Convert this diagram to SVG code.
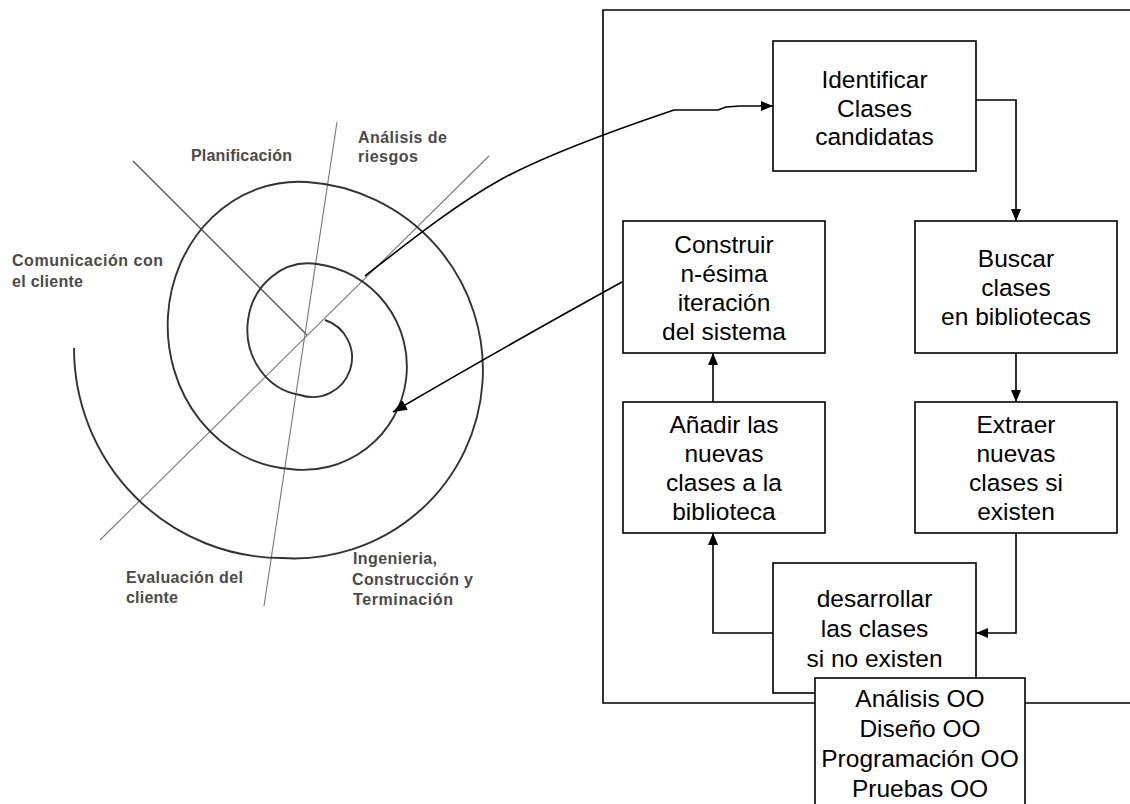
<svg xmlns="http://www.w3.org/2000/svg" width="1130" height="804" viewBox="0 0 1130 804">
<style>
  .lbl{font-family:"Liberation Sans",Arial,sans-serif;font-size:16px;font-weight:bold;fill:#4a4a4a}
  .box{fill:#fff;stroke:#000;stroke-width:1.6}
  .t{font-family:"Liberation Sans",Arial,sans-serif;font-size:24.5px;fill:#000;text-anchor:middle}
  .con{fill:none;stroke:#000;stroke-width:1.6}
  .spiral{fill:none;stroke:#333;stroke-width:1.9}
</style>
<defs>
  <marker id="ah" markerUnits="userSpaceOnUse" markerWidth="12" markerHeight="10" refX="12" refY="5" orient="auto">
    <path d="M0,0 L12,5 L0,10 z" fill="#000"/>
  </marker>
  <marker id="ah2" markerUnits="userSpaceOnUse" markerWidth="14" markerHeight="11" refX="14" refY="5.5" orient="auto">
    <path d="M0,0 L14,5.5 L0,11 z" fill="#000"/>
  </marker>
</defs>
<rect width="1130" height="804" fill="#fff"/>

<g id="spiral-model">
  <line x1="133" y1="161" x2="307" y2="335" stroke="#555" stroke-width="1.4"/>
  <line x1="489" y1="156" x2="100" y2="540" stroke="#777" stroke-width="1.1"/>
  <line x1="337" y1="122" x2="264" y2="606" stroke="#777" stroke-width="1.1"/>
  <path class="spiral" d="M325,320 A10,10 0 0 1 300,395 A30.5,33 0 0 1 317,264 A10,10 0 0 1 290,469 A65.5,72 0 0 1 307,182 A10,10 0 0 1 282,558 A208,210 0 0 1 74,348"/>
  <text class="lbl" x="191" y="161" textLength="101" lengthAdjust="spacing">Planificación</text>
  <text class="lbl" x="358" y="143" textLength="89" lengthAdjust="spacing">Análisis de</text>
  <text class="lbl" x="358" y="162" textLength="60" lengthAdjust="spacing">riesgos</text>
  <text class="lbl" x="12" y="266" textLength="151" lengthAdjust="spacing">Comunicación con</text>
  <text class="lbl" x="12" y="287" textLength="71" lengthAdjust="spacing">el cliente</text>
  <text class="lbl" x="126" y="583" textLength="117" lengthAdjust="spacing">Evaluación del</text>
  <text class="lbl" x="126" y="603" textLength="52" lengthAdjust="spacing">cliente</text>
  <text class="lbl" x="353" y="564" textLength="84" lengthAdjust="spacing">Ingenieria,</text>
  <text class="lbl" x="352" y="585" textLength="121" lengthAdjust="spacing">Construcción y</text>
  <text class="lbl" x="353" y="605" textLength="100" lengthAdjust="spacing">Terminación</text>
</g>

<g id="frame">
  <path d="M1130,10 H603 V703 H1130" fill="none" stroke="#000" stroke-width="1.6"/>
</g>

<g id="identificar">
  <rect class="box" x="773" y="41" width="203" height="130"/>
  <text class="t" x="874.5" y="88">Identificar</text>
  <text class="t" x="874.5" y="117">Clases</text>
  <text class="t" x="874.5" y="145">candidatas</text>
</g>
<g id="construir">
  <rect class="box" x="623" y="221" width="202" height="132"/>
  <text class="t" x="724" y="253">Construir</text>
  <text class="t" x="724" y="282">n-ésima</text>
  <text class="t" x="724" y="311">iteración</text>
  <text class="t" x="724" y="340">del sistema</text>
</g>
<g id="buscar">
  <rect class="box" x="915" y="221" width="202" height="132"/>
  <text class="t" x="1016" y="267">Buscar</text>
  <text class="t" x="1016" y="296">clases</text>
  <text class="t" x="1016" y="325">en bibliotecas</text>
</g>
<g id="anadir">
  <rect class="box" x="623" y="402" width="202" height="131"/>
  <text class="t" x="724" y="433">Añadir las</text>
  <text class="t" x="724" y="462">nuevas</text>
  <text class="t" x="724" y="491">clases a la</text>
  <text class="t" x="724" y="520">biblioteca</text>
</g>
<g id="extraer">
  <rect class="box" x="915" y="402" width="202" height="131"/>
  <text class="t" x="1016" y="433">Extraer</text>
  <text class="t" x="1016" y="462">nuevas</text>
  <text class="t" x="1016" y="491">clases si</text>
  <text class="t" x="1016" y="520">existen</text>
</g>
<g id="desarrollar">
  <rect class="box" x="773" y="563" width="203" height="130"/>
  <text class="t" x="874.5" y="607">desarrollar</text>
  <text class="t" x="874.5" y="637">las clases</text>
  <text class="t" x="874.5" y="667">si no existen</text>
</g>

<g id="connectors">
  <path class="con" stroke-width="2" d="M365,276 C410,241 455,205 500,180 C540,158 600,135 674,110 L718,110 L726,107 L740,106 L773,106" marker-end="url(#ah)"/>
  <path class="con" stroke-width="2" d="M622,282 Q520,338 393,412" marker-end="url(#ah2)"/>
  <path class="con" d="M976,100 H1016 V221" marker-end="url(#ah)"/>
  <path class="con" d="M1016,353 V402" marker-end="url(#ah)"/>
  <path class="con" d="M1016,533 V633 H976" marker-end="url(#ah)"/>
  <path class="con" d="M773,633 H713 V533" marker-end="url(#ah)"/>
  <path class="con" d="M713,402 V353" marker-end="url(#ah)"/>
</g>

<g id="analisis-oo">
  <rect class="box" x="815" y="678" width="210" height="140"/>
  <text class="t" x="920" y="707">Análisis OO</text>
  <text class="t" x="920" y="737">Diseño OO</text>
  <text class="t" x="920" y="767">Programación OO</text>
  <text class="t" x="920" y="797">Pruebas OO</text>
</g>
</svg>
